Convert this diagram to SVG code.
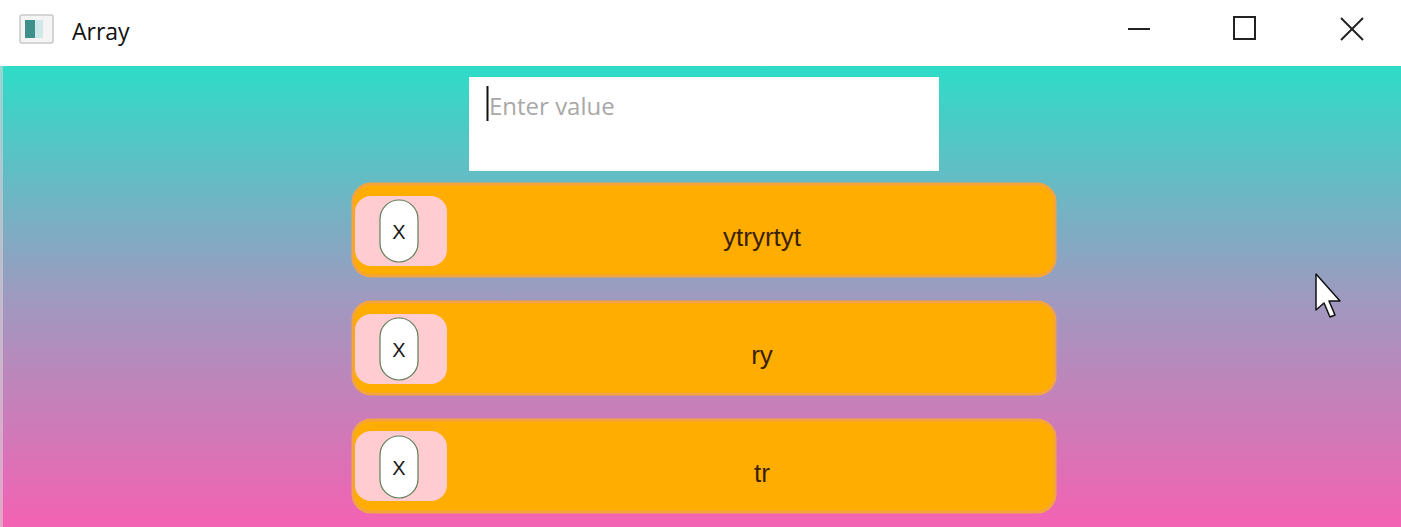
<svg xmlns="http://www.w3.org/2000/svg" width="1401" height="527" viewBox="0 0 1401 527">
<defs>
<linearGradient id="bg" x1="0" y1="0" x2="0" y2="1">
<stop offset="0" stop-color="#2edcc8"/>
<stop offset="0.5" stop-color="#9e9ac0"/>
<stop offset="1" stop-color="#f462b2"/>
</linearGradient>
</defs>
<style>
.card{fill:#ffad00;stroke:#f4a43c;stroke-width:3}
.pink{fill:#ffccd2}
.pill{fill:#ffffff;stroke:#5f7f55;stroke-width:1.2}
.x{font-family:"Liberation Sans",Arial,sans-serif;font-size:20px;fill:#1a1a1a;text-anchor:middle}
.lbl{font-family:"Liberation Sans",Arial,sans-serif;font-size:26px;fill:#3a2200;text-anchor:middle}
.ctl{stroke:#222;stroke-width:2;fill:none}
</style>
<rect x="0" y="0" width="1401" height="66" fill="#ffffff"/>
<rect x="0" y="66" width="1401" height="461" fill="url(#bg)"/>
<rect x="0" y="66" width="3" height="461" fill="#dcd0d8" opacity="0.6"/>
<g id="titlebar">
<rect x="20" y="15" width="33" height="28" rx="2" fill="#f4f4f4" stroke="#c8c8c8" stroke-width="1.5"/>
<rect x="25" y="20" width="10" height="18" fill="#3f8f8a"/>
<rect x="35" y="20" width="8" height="18" fill="#cfe8ea"/>
<text x="72" y="40" font-family="'Open Sans','Liberation Sans',sans-serif" font-size="23" fill="#111">Array</text>
<line class="ctl" x1="1128" y1="29" x2="1150" y2="29"/>
<rect class="ctl" x="1234" y="17" width="21" height="22"/>
<line class="ctl" x1="1341" y1="18" x2="1363" y2="40"/>
<line class="ctl" x1="1363" y1="18" x2="1341" y2="40"/>
</g>
<g id="input">
<rect x="469" y="77" width="470" height="94" fill="#ffffff"/>
<line x1="487.5" y1="86" x2="487.5" y2="121" stroke="#111" stroke-width="2"/>
<text x="489" y="115" font-family="'Open Sans','Liberation Sans',sans-serif" font-size="24" fill="#a8a8a8">Enter value</text>
</g>
<g id="item1">
<rect class="card" x="353" y="184" width="702" height="92" rx="18"/>
<rect class="pink" x="355" y="196" width="92" height="70" rx="16"/>
<rect class="pill" x="380" y="200" width="38" height="62" rx="19"/>
<text class="x" x="399" y="239">X</text>
<text class="lbl" x="762" y="246">ytryrtyt</text>
</g>
<g id="item2">
<rect class="card" x="353" y="302" width="702" height="92" rx="18"/>
<rect class="pink" x="355" y="314" width="92" height="70" rx="16"/>
<rect class="pill" x="380" y="318" width="38" height="62" rx="19"/>
<text class="x" x="399" y="357">X</text>
<text class="lbl" x="762" y="364">ry</text>
</g>
<g id="item3">
<rect class="card" x="353" y="420" width="702" height="92" rx="18"/>
<rect class="pink" x="355" y="431" width="92" height="70" rx="16"/>
<rect class="pill" x="380" y="436" width="38" height="62" rx="19"/>
<text class="x" x="399" y="475">X</text>
<text class="lbl" x="762" y="482">tr</text>
</g>
<g id="connectors"></g>
<g id="cursor">
<path d="M1316 274 L1316 310 L1324 303 L1330 317 L1335 315 L1329 301 L1340 301 Z" fill="#ffffff" stroke="#111" stroke-width="1.5" stroke-linejoin="round"/>
</g>
</svg>
